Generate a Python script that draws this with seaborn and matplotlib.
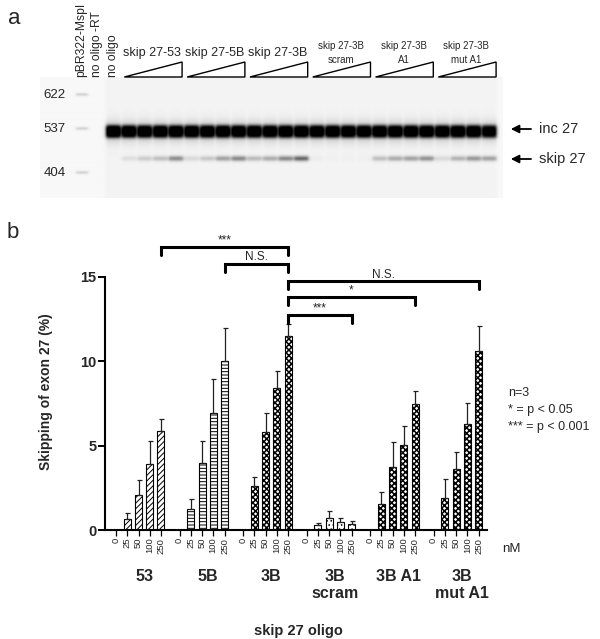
import numpy as np
import pandas as pd
import matplotlib.pyplot as plt
from matplotlib.patches import Polygon
import seaborn as sns

# ---- data ----
concs = ["0", "25", "50", "100", "250"]
groups = ["53", "5B", "3B", "3B\nscram", "3B A1", "3B\nmut A1"]
hatches = ["//////", "-----", "xxxxxx", "....", "xxxxxx", "xxxxxx"]
hatch_lw = [0.7, 0.7, 1.1, 0.6, 1.1, 1.1]

skip_53 = [0, 0.65, 2.1, 3.9, 5.85]
skip_5B = [0, 1.27, 3.97, 6.92, 10.0]
skip_3B = [0, 2.63, 5.8, 8.42, 11.47]
skip_scram = [0, 0.3, 0.71, 0.45, 0.34]
skip_A1 = [0, 1.54, 3.71, 5.03, 7.46]
skip_mutA1 = [0, 1.91, 3.61, 6.28, 10.58]

sd_53 = [0, 0.35, 0.85, 1.4, 0.7]
sd_5B = [0, 0.55, 1.3, 2.0, 1.95]
sd_3B = [0, 0.52, 1.15, 1.0, 0.75]
sd_scram = [0, 0.13, 0.4, 0.24, 0.19]
sd_A1 = [0, 0.73, 1.52, 1.15, 0.79]
sd_mutA1 = [0, 1.09, 1.03, 1.26, 1.48]

means = [skip_53, skip_5B, skip_3B, skip_scram, skip_A1, skip_mutA1]
sds = [sd_53, sd_5B, sd_3B, sd_scram, sd_A1, sd_mutA1]

# significance: (group a, group b, label) compared at 250 nM
sig_pairs = [(0, 2, "***"), (1, 2, "N.S."), (2, 5, "N.S."), (2, 4, "*"), (2, 3, "***")]
sig_levels = [16.75, 15.75, 14.72, 13.8, 12.72]

# gel
lane_labels = ["pBR322-MspI", "no oligo -RT", "no oligo"]
gel_groups = ["skip 27-53", "skip 27-5B", "skip 27-3B",
              "skip 27-3B\nscram", "skip 27-3B\nA1", "skip 27-3B\nmut A1"]
marker_bp = ["622", "537", "404"]
marker_pos = [95, 129, 173]
inc_band = [0.0, 0.0, 1.0,
            0.95, 0.95, 0.95, 0.95,
            0.95, 0.95, 0.95, 0.95,
            0.95, 0.95, 0.95, 0.95,
            0.95, 0.95, 0.95, 0.95,
            0.95, 0.95, 0.95, 0.95,
            0.95, 0.95, 0.95, 0.9]
skip_band = [0.0, 0.0, 0.0,
             0.08, 0.15, 0.2, 0.4,
             0.1, 0.17, 0.32, 0.42,
             0.22, 0.28, 0.42, 0.55,
             0.02, 0.01, 0.01, 0.01,
             0.2, 0.28, 0.32, 0.38,
             0.1, 0.25, 0.36, 0.32]
inc_pos, skip_pos = 132, 159

sns.set_theme(style="white")
plt.rcParams["font.family"] = ["Liberation Sans", "DejaVu Sans"]

fig = plt.figure(figsize=(6.0, 6.39), dpi=100)
W, H = 600, 639

# ---------------- panel a: gel ----------------
gx0, gx1 = -2.65, 26.84
ga = fig.add_axes([40 / W, 1 - 200 / H, 463 / W, 200 / H])
xs = np.linspace(gx0, gx1, 463)
ys = np.linspace(78, 198, 120)
X, Y = np.meshgrid(xs, ys)
dark = np.full(X.shape, 0.03)
for i in range(len(inc_band)):
    prof = 1 / (1 + np.exp((np.abs(X - i) - 0.46) / 0.06))
    if i >= 2:
        dark += 0.02 * prof
    dark += inc_band[i] * prof * np.exp(-((Y - inc_pos) / 6.5) ** 4)
    dark += 0.25 * inc_band[i] * prof * np.exp(-((Y - inc_pos) / 10.0) ** 2)
    dark += skip_band[i] * prof * np.exp(-((Y - skip_pos) / 2.6) ** 2)
mprof = 1 / (1 + np.exp((np.abs(X) - 0.38) / 0.05))
for p in marker_pos:
    dark += 0.15 * mprof * np.exp(-((Y - p) / 1.5) ** 2)
img = 1 - np.clip(dark, 0, 1)
ga.imshow(img, cmap="gray", vmin=0, vmax=1, extent=[gx0, gx1, 198, 78],
          aspect="auto", interpolation="bilinear")
ga.set_xlim(gx0, gx1)
ga.set_ylim(200, 0)
ga.axis("off")

for i, lab in enumerate(lane_labels):
    ga.text(i, 77, lab, rotation=90, ha="center", va="bottom", fontsize=8.7)
for g, lab in enumerate(gel_groups):
    s, e = 3 + 4 * g, 6 + 4 * g
    fs = 9 if "\n" not in lab else 7
    ga.text((s + e) / 2, 53, lab, ha="center", va="center", fontsize=fs,
            linespacing=1.4)
    ga.add_patch(Polygon([(s - 0.28, 77), (e + 0.4, 62), (e + 0.4, 77)],
                         closed=True, fill=False, edgecolor="black", lw=1))
for lab, p in zip(marker_bp, marker_pos):
    ga.text(-1.73, p, lab, ha="center", va="center", fontsize=9.5)
for lab, p in [("inc 27", inc_pos - 3), ("skip 27", skip_pos)]:
    ga.annotate("", xy=(27.16, p), xytext=(28.8, p), annotation_clip=False,
                arrowprops=dict(arrowstyle="-|>", color="black", lw=1.3,
                                mutation_scale=12))
    ga.text(29.15, p, lab, ha="left", va="center", fontsize=10.5)

# ---------------- panel b: bars ----------------
ax = fig.add_axes([105 / W, (H - 530) / H, 382 / W, 253.3 / H])
gap = 5.65
rows = []
for g, (m, s) in enumerate(zip(means, sds)):
    for i, c in enumerate(concs):
        rows.append({"group": g, "conc": c, "xpos": g * gap + i,
                     "value": m[i], "sd": s[i]})
df = pd.DataFrame(rows)

for g in range(len(groups)):
    sub = df[df["group"] == g]
    n_before = len(ax.patches)
    plt.rcParams["hatch.linewidth"] = hatch_lw[g]
    sns.barplot(data=sub, x="xpos", y="value", native_scale=True, width=0.62,
                color="white", edgecolor="black", linewidth=0.8,
                hatch=hatches[g], errorbar=None, ax=ax)
    for p in ax.patches[n_before:]:
        if hasattr(p, "set_hatch_linewidth"):
            p.set_hatch_linewidth(hatch_lw[g])
    nz = sub[sub["value"] > 0]
    ax.errorbar(nz["xpos"], nz["value"], yerr=[np.zeros(len(nz)), nz["sd"]],
                fmt="none", ecolor="#222222", elinewidth=0.9, capsize=1.8,
                capthick=0.9)

ax.set_xlim(-0.98, 33.0)
ax.set_ylim(0, 15)
ax.set_yticks([0, 5, 10, 15])
ax.set_yticklabels(["0", "5", "10", "15"], fontsize=10.5, fontweight="bold")
ax.set_xticks(df["xpos"])
ax.set_xticklabels(df["conc"], rotation=90, fontsize=6.8)
ax.tick_params(axis="x", length=4, width=0.9, pad=1.5, color="black", bottom=True)
ax.tick_params(axis="y", length=5, width=1.4, pad=1, color="black", left=True)
for side in ["top", "right"]:
    ax.spines[side].set_visible(False)
for side in ["left", "bottom"]:
    ax.spines[side].set_color("black")
    ax.spines[side].set_linewidth(1.5)
ax.set_xlabel("")
ax.set_ylabel("")

for (a, b, lab), lev in zip(sig_pairs, sig_levels):
    xa, xb = a * gap + 4, b * gap + 4
    ax.plot([xa, xa, xb, xb], [lev - 0.45, lev, lev, lev - 0.45], color="black",
            lw=2.2, clip_on=False, solid_joinstyle="miter")
    ax.text((xa + xb) / 2, lev + 0.05, lab, ha="center", va="bottom", fontsize=8.5)

for g, lab in enumerate(groups):
    ax.text(g * gap + 2.5, -2.3, lab, ha="center", va="top", fontsize=11.5,
            fontweight="bold", linespacing=1.2, clip_on=False)

fig.text(502 / W, 1 - 549 / H, "nM", ha="left", va="center", fontsize=9.5)
fig.text(298 / W, 1 - 631 / H, "skip 27 oligo", ha="center", va="center",
         fontsize=10.5, fontweight="bold")
fig.text(46 / W, 1 - 392 / H, "Skipping of exon 27 (%)", rotation=90,
         ha="center", va="center", fontsize=10, fontweight="bold")
fig.text(508 / W, 1 - 393 / H, "n=3", ha="left", va="center", fontsize=9)
fig.text(508 / W, 1 - 410 / H, "* = p < 0.05", ha="left", va="center", fontsize=9)
fig.text(508 / W, 1 - 427 / H, "*** = p < 0.001", ha="left", va="center", fontsize=9)
fig.text(14 / W, 1 - 18 / H, "a", ha="center", va="center", fontsize=16)
fig.text(13 / W, 1 - 233 / H, "b", ha="center", va="center", fontsize=16)

fig.savefig("out.png", dpi=100)
